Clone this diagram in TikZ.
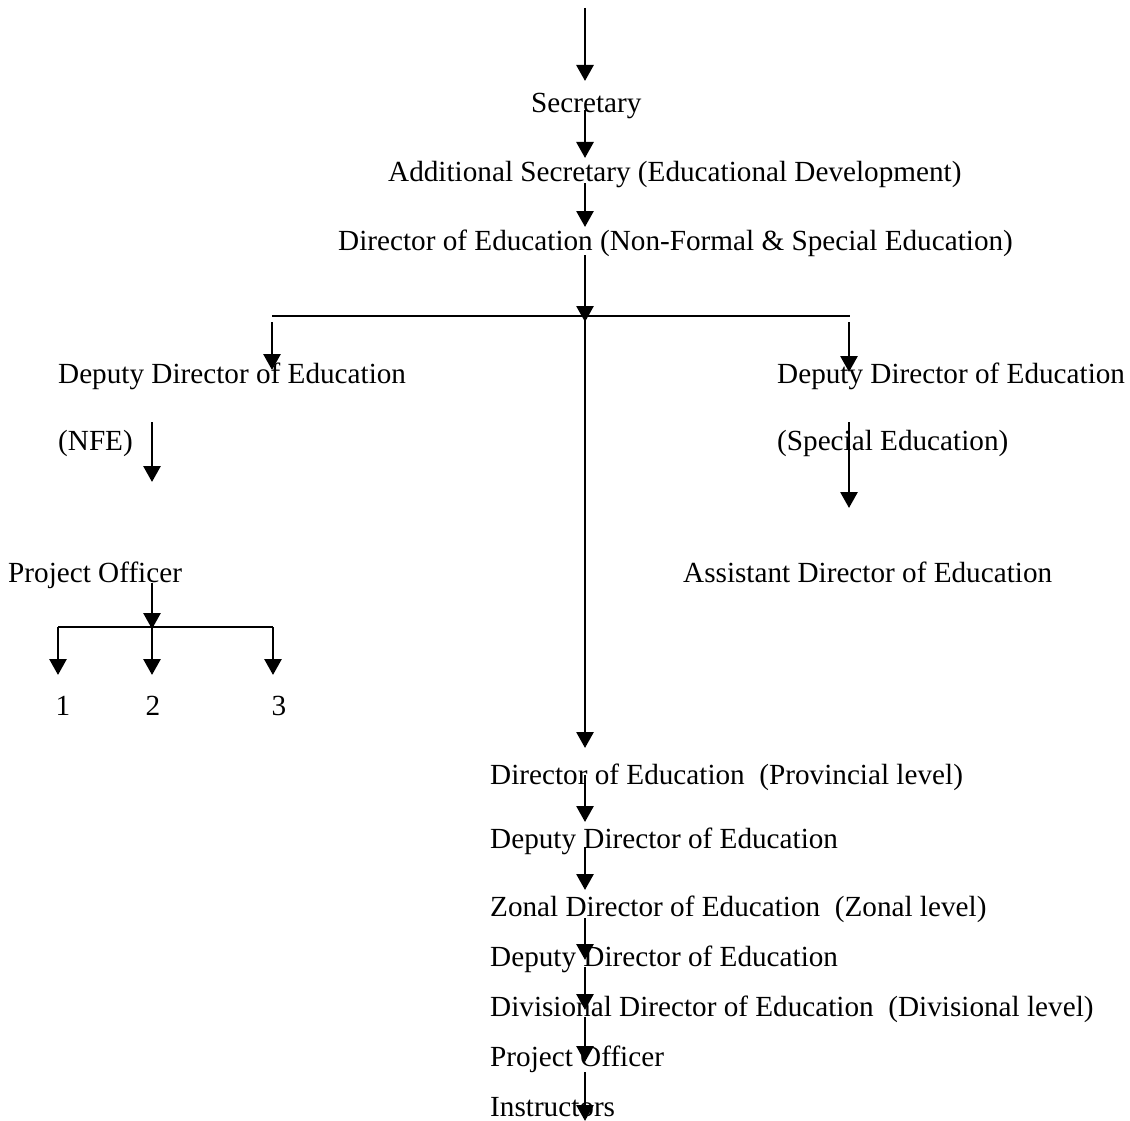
\documentclass[tikz,border=0pt]{standalone}
\usepackage{fontspec}
\setmainfont{Liberation Serif}
\usetikzlibrary{arrows.meta}
\begin{document}
\begin{tikzpicture}[
    x=1pt, y=-1pt,
    label/.style={anchor=base west, inner sep=0pt, font=\fontsize{29.2}{35}\selectfont},
    num/.style={anchor=base, inner sep=0pt, font=\fontsize{29.2}{35}\selectfont},
    arrow/.style={line width=2.8pt, -{Triangle[length=16pt, width=17pt]}},
    rule/.style={line width=2.8pt}
]
    \useasboundingbox (0,0) rectangle (1130,1121);

    % headquarters
    \node [label] (sec) at (531,113) {Secretary};
    \node [label] (addsec) at (388,182) {Additional Secretary (Educational Development)};
    \node [label] (dirnfse) at (338,250) {Director of Education (Non-Formal \& Special Education)};

    % left branch
    \node [label] (ddnfe) at (58,383) {Deputy Director of Education};
    \node [label] (nfe) at (58,450) {(NFE)};
    \node [label] (po) at (8,582) {Project Officer};
    \node [num] (one) at (63,715) {1};
    \node [num] (two) at (153,715) {2};
    \node [num] (three) at (279,715) {3};

    % right branch
    \node [label] (ddse) at (777,383) {Deputy Director of Education};
    \node [label] (se) at (777,450) {(Special Education)};
    \node [label] (ade) at (683,582) {Assistant Director of Education};

    % provincial chain
    \node [label] (dirprov) at (490,784) {Director of Education~~(Provincial level)};
    \node [label] (ddprov) at (490,848) {Deputy Director of Education};
    \node [label] (zde) at (490,916) {Zonal Director of Education~~(Zonal level)};
    \node [label] (ddzone) at (490,966) {Deputy Director of Education};
    \node [label] (dde) at (490,1016) {Divisional Director of Education~~(Divisional level)};
    \node [label] (podiv) at (490,1066) {Project Officer};
    \node [label] (instr) at (490,1116) {Instructors};

    % connector ends
    \coordinate (t0) at (585,8);    \coordinate (t1) at (585,81);
    \coordinate (t2) at (585,110);  \coordinate (t3) at (585,158);
    \coordinate (t4) at (585,183);  \coordinate (t5) at (585,227);
    \coordinate (t6) at (585,255);  \coordinate (jmid) at (585,322);
    \coordinate (jtop) at (585,316);\coordinate (jend) at (585,748);
    \coordinate (jl) at (272,316);  \coordinate (jr) at (850,316);
    \coordinate (l0) at (272,322);  \coordinate (l1) at (272,370);
    \coordinate (r0) at (849,322);  \coordinate (r1) at (849,372);
    \coordinate (l2) at (152,422);  \coordinate (l3) at (152,482);
    \coordinate (r2) at (849,422);  \coordinate (r3) at (849,508);
    \coordinate (p0) at (152,583);  \coordinate (p1) at (152,629);
    \coordinate (pl) at (58,627);   \coordinate (pr) at (273,627);
    \coordinate (pm) at (152,627);
    \coordinate (d1) at (58,675);   \coordinate (d2) at (152,675);
    \coordinate (d3) at (273,675);
    \coordinate (b0) at (585,775);  \coordinate (b1) at (585,822);
    \coordinate (b2) at (585,847);  \coordinate (b3) at (585,890);
    \coordinate (b4) at (585,918);  \coordinate (b5) at (585,960);
    \coordinate (b6) at (585,967);  \coordinate (b7) at (585,1010);
    \coordinate (b8) at (585,1017); \coordinate (b9) at (585,1062);
    \coordinate (b10) at (585,1072);\coordinate (b11) at (585,1121);

    % top chain
    \draw [arrow] (t0) -- (t1);
    \draw [arrow] (t2) -- (t3);
    \draw [arrow] (t4) -- (t5);
    \draw [arrow] (t6) -- (jmid);

    % split
    \draw [rule] (jl) -- (jr);
    \draw [arrow] (jtop) -- (jend);
    \draw [arrow] (l0) -- (l1);
    \draw [arrow] (r0) -- (r1);
    \draw [arrow] (l2) -- (l3);
    \draw [arrow] (r2) -- (r3);

    % project officer split
    \draw [arrow] (p0) -- (p1);
    \draw [rule] (pl) -- (pr);
    \draw [arrow] (pl) -- (d1);
    \draw [arrow] (pm) -- (d2);
    \draw [arrow] (pr) -- (d3);

    % lower chain
    \draw [arrow] (b0) -- (b1);
    \draw [arrow] (b2) -- (b3);
    \draw [arrow] (b4) -- (b5);
    \draw [arrow] (b6) -- (b7);
    \draw [arrow] (b8) -- (b9);
    \draw [arrow] (b10) -- (b11);
\end{tikzpicture}
\end{document}
